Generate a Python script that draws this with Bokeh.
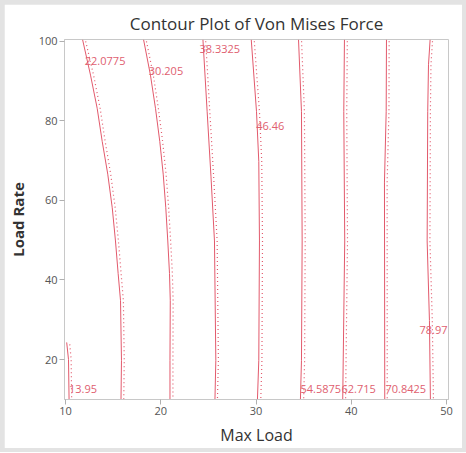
from bokeh.plotting import figure
from bokeh.models import Range1d, FixedTicker
from bokeh.layouts import column
from bokeh.core.properties import value
from bokeh.embed import file_html
from bokeh.resources import INLINE

title = "Contour Plot of Von Mises Force"
x_label = "Max Load"
y_label = "Load Rate"
x_ticks = [10, 20, 30, 40, 50]
y_ticks = [20, 40, 60, 80, 100]

level_labels = ["13.95", "22.0775", "30.205", "38.3325", "46.46",
                "54.5875", "62.715", "70.8425", "78.97"]

# solid contour lines (x = Max Load, y = Load Rate)
solid_x = [
    [10.13, 10.32, 10.38],
    [11.80, 12.63, 13.33, 13.86, 14.44, 14.91, 15.25, 15.53, 15.78, 15.88, 15.83],
    [18.20, 18.92, 19.45, 19.90, 20.26, 20.53, 20.74, 20.92, 21.00, 20.97, 20.97],
    [24.43, 24.87, 25.27, 25.64, 25.78, 25.69],
    [29.50, 30.05, 30.29, 30.36, 30.29, 30.15],
    [34.46, 34.77, 34.84, 34.77, 34.66],
    [39.28, 39.21, 39.31, 39.10],
    [43.69, 43.66, 43.48, 43.51],
    [48.27, 48.10, 48.02, 47.96, 48.20, 48.30],
]
solid_y = [
    [24.3, 20.0, 10.0],
    [100.4, 91.5, 83.15, 74.8, 66.6, 58.15, 49.8, 41.6, 34.8, 19.8, 10.0],
    [100.4, 91.5, 83.15, 74.8, 66.6, 58.15, 49.8, 41.6, 34.8, 19.8, 10.0],
    [100.4, 82.3, 66.1, 49.8, 19.8, 10.0],
    [100.4, 82.3, 69.8, 49.8, 19.8, 10.0],
    [100.4, 82.3, 49.8, 19.8, 10.0],
    [100.4, 82.3, 49.8, 10.0],
    [100.4, 82.3, 64.6, 10.0],
    [100.4, 94.1, 82.3, 49.8, 29.8, 10.0],
]

# dotted companion lines
dotted_x = [
    [10.45, 10.60, 10.65],
    [12.12, 12.95, 13.64, 14.17, 14.75, 15.22, 15.56, 15.84, 16.08, 16.17, 16.12],
    [18.50, 19.22, 19.75, 20.20, 20.56, 20.83, 21.04, 21.22, 21.30, 21.28, 21.28],
    [24.72, 25.15, 25.55, 25.92, 26.05, 25.95],
    [29.82, 30.36, 30.60, 30.68, 30.62, 30.50],
    [34.78, 35.08, 35.16, 35.10, 35.00],
    [39.58, 39.52, 39.60, 39.40],
    [43.97, 43.95, 43.76, 43.77],
    [48.52, 48.36, 48.30, 48.25, 48.50, 48.62],
]
dotted_y = [
    [23.8, 20.0, 10.0],
    [100.0, 91.5, 83.15, 74.8, 66.6, 58.15, 49.8, 41.6, 34.8, 19.8, 10.0],
    [100.0, 91.5, 83.15, 74.8, 66.6, 58.15, 49.8, 41.6, 34.8, 19.8, 10.0],
    [100.0, 82.3, 66.1, 49.8, 19.8, 10.0],
    [100.0, 82.3, 69.8, 49.8, 19.8, 10.0],
    [100.0, 82.3, 49.8, 19.8, 10.0],
    [100.0, 82.3, 49.8, 10.0],
    [100.0, 82.3, 64.6, 10.0],
    [100.0, 94.1, 82.3, 49.8, 29.8, 10.0],
]

# where each level's label sits (Max Load, Load Rate)
label_x = [10.37, 12.03, 18.75, 24.07, 30.02, 34.66, 38.97, 43.58, 47.15]
label_y = [12.5, 95.0, 92.5, 98.15, 78.8, 12.5, 12.5, 12.5, 27.5]

LINE = "#e25a6c"
TEXT = "#e0606f"
FONT = "Open Sans"

p = figure(width=458, height=444, output_backend="svg", toolbar_location=None,
           x_range=Range1d(9.9, 50.2), y_range=Range1d(9.95, 100.45),
           min_border_left=60, min_border_right=14, min_border_top=34,
           min_border_bottom=48, title=title)

p.title.align = "center"
p.title.text_font = FONT
p.title.text_font_size = "17px"
p.title.text_font_style = "normal"
p.title.text_color = "#333333"

p.background_fill_color = "white"
p.border_fill_color = "white"
p.outline_line_color = "#c8c8c8"
p.xgrid.visible = False
p.ygrid.visible = False

for ax in (p.xaxis[0], p.yaxis[0]):
    ax.axis_line_color = "#c8c8c8"
    ax.major_tick_line_color = "#b0b0b0"
    ax.major_tick_out = 5
    ax.major_tick_in = 0
    ax.minor_tick_line_color = None
    ax.major_label_text_font = FONT
    ax.major_label_text_font_size = "11px"
    ax.major_label_text_color = "#555555"
    ax.axis_label_text_font = FONT
    ax.axis_label_text_color = "#333333"
    ax.major_label_standoff = 2

p.xaxis.ticker = FixedTicker(ticks=x_ticks)
p.yaxis.ticker = FixedTicker(ticks=y_ticks)
p.xaxis.axis_label = x_label
p.yaxis.axis_label = y_label
p.xaxis.axis_label_text_font_size = "16px"
p.xaxis.axis_label_text_font_style = "normal"
p.yaxis.axis_label_text_font_size = "15px"
p.yaxis.axis_label_text_font_style = "bold"
p.xaxis.axis_label_standoff = 6
p.yaxis.axis_label_standoff = 8

p.multi_line(xs=solid_x, ys=solid_y, line_color=LINE, line_width=1)
p.multi_line(xs=dotted_x, ys=dotted_y, line_color=LINE, line_width=1.2,
             line_dash="1 3")

p.text(x=label_x, y=label_y, text=level_labels, text_color=TEXT,
       text_font=value(FONT), text_font_size="11px",
       text_align="left", text_baseline="middle")

layout = column(p, styles={"background-color": "#e3e3e3", "padding": "4px"})

open("out.html", "w").write(file_html(layout, INLINE))
